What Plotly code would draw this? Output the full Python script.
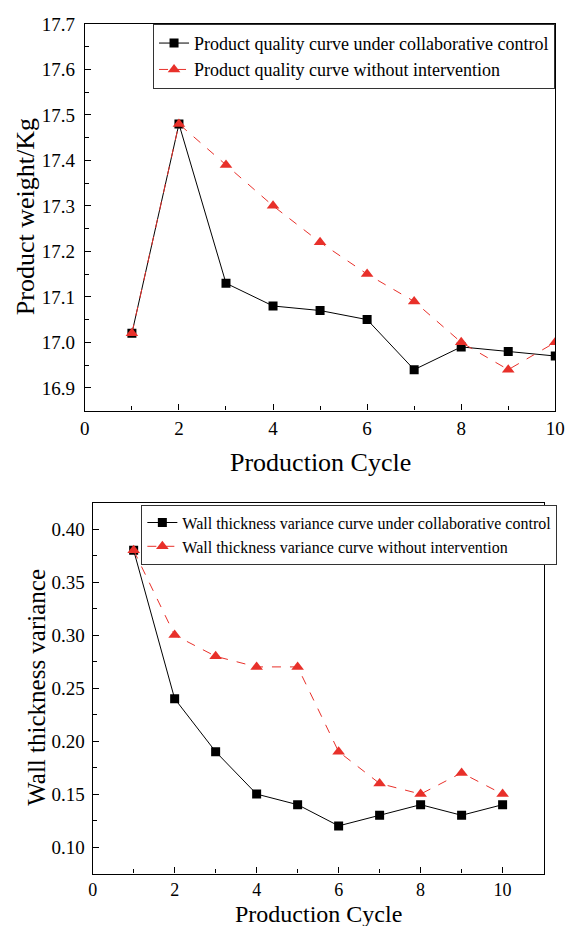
import plotly.graph_objects as go

cycles = [1, 2, 3, 4, 5, 6, 7, 8, 9, 10]
weight_collab = [17.02, 17.48, 17.13, 17.08, 17.07, 17.05, 16.94, 16.99, 16.98, 16.97]
weight_none = [17.02, 17.48, 17.39, 17.30, 17.22, 17.15, 17.09, 17.00, 16.94, 17.00]
var_collab = [0.38, 0.24, 0.19, 0.15, 0.14, 0.12, 0.13, 0.14, 0.13, 0.14]
var_none = [0.38, 0.30, 0.28, 0.27, 0.27, 0.19, 0.16, 0.15, 0.17, 0.15]

FONT = "Liberation Serif"
RED = "#E8302A"
W, H = 576, 926

fig = go.Figure()

fig.add_trace(go.Scatter(x=cycles, y=weight_collab, mode="lines+markers",
                         name="Product quality curve under collaborative control",
                         line=dict(color="black", width=1),
                         marker=dict(symbol="square", size=9, color="black"),
                         xaxis="x", yaxis="y", legend="legend"))
fig.add_trace(go.Scatter(x=cycles, y=weight_none, mode="lines+markers",
                         name="Product quality curve without intervention",
                         line=dict(color=RED, width=1, dash="dash"),
                         marker=dict(symbol="triangle-up", size=11, color=RED),
                         xaxis="x", yaxis="y", legend="legend"))
fig.add_trace(go.Scatter(x=cycles, y=var_collab, mode="lines+markers",
                         name="Wall thickness variance curve under collaborative control",
                         line=dict(color="black", width=1),
                         marker=dict(symbol="square", size=9, color="black"),
                         xaxis="x2", yaxis="y2", legend="legend2"))
fig.add_trace(go.Scatter(x=cycles, y=var_none, mode="lines+markers",
                         name="Wall thickness variance curve without intervention",
                         line=dict(color=RED, width=1, dash="dash"),
                         marker=dict(symbol="triangle-up", size=11, color=RED),
                         xaxis="x2", yaxis="y2", legend="legend2"))

axis_common = dict(showgrid=False, zeroline=False, showline=True, linecolor="black",
                   linewidth=1.3, mirror=True, ticks="inside", ticklen=6, tickwidth=1,
                   tickcolor="black")


def tf(size):
    return dict(family=FONT, size=size, color="black")


def px_x(p):
    return p / W


def px_y(p):
    return 1 - p / H


fig.update_layout(
    width=W, height=H, margin=dict(l=0, r=0, t=0, b=0),
    paper_bgcolor="white", plot_bgcolor="white",
    font=dict(family=FONT, color="black"),
    xaxis=dict(domain=[px_x(82), px_x(565)], range=[0, 10], dtick=2, tick0=0,
               minor=dict(ticks="inside", ticklen=4, dtick=1, tick0=0, tickcolor="black"),
               anchor="y", tickfont=tf(19), **axis_common),
    yaxis=dict(domain=[px_y(405), px_y(14)], range=[16.85, 17.7], dtick=0.1, tick0=16.9,
               tickformat=".1f", ticklabelstandoff=5,
               minor=dict(ticks="inside", ticklen=4, dtick=0.05, tick0=16.85, tickcolor="black"),
               anchor="x", tickfont=tf(19), **axis_common),
    xaxis2=dict(domain=[px_x(90), px_x(553)], range=[0, 11], dtick=2, tick0=0,
                minor=dict(ticks="inside", ticklen=4, dtick=1, tick0=0, tickcolor="black"),
                anchor="y2", tickfont=tf(18), **axis_common),
    yaxis2=dict(domain=[px_y(873), px_y(498)], range=[0.075, 0.425], dtick=0.05, tick0=0,
                tickformat=".2f", ticklabelstandoff=3,
                minor=dict(ticks="inside", ticklen=4, dtick=0.025, tick0=0, tickcolor="black"),
                anchor="x2", tickfont=tf(19), **axis_common),
    legend=dict(x=px_x(152), y=px_y(14), xanchor="left", yanchor="top",
                bgcolor="white", bordercolor="#333", borderwidth=1,
                font=tf(18), tracegroupgap=0, itemwidth=30),
    legend2=dict(x=px_x(140), y=px_y(500), xanchor="left", yanchor="top",
                 bgcolor="white", bordercolor="#333", borderwidth=1,
                 font=tf(16), tracegroupgap=0, itemwidth=30),
    showlegend=True,
)

annotations = [
    dict(text="Production Cycle", x=px_x(324), y=px_y(457), font=dict(size=26)),
    dict(text="Product weight/Kg", x=px_x(21), y=px_y(209), font=dict(size=26), textangle=-90),
    dict(text="Production Cycle", x=px_x(322), y=px_y(914), font=dict(size=24)),
    dict(text="Wall thickness variance", x=px_x(32), y=px_y(685), font=dict(size=25), textangle=-90),
]
for a in annotations:
    a.update(xref="paper", yref="paper", showarrow=False, xanchor="center", yanchor="middle")
    a["font"].update(family=FONT, color="black")
fig.update_layout(annotations=annotations)

fig.write_html("out.html")
